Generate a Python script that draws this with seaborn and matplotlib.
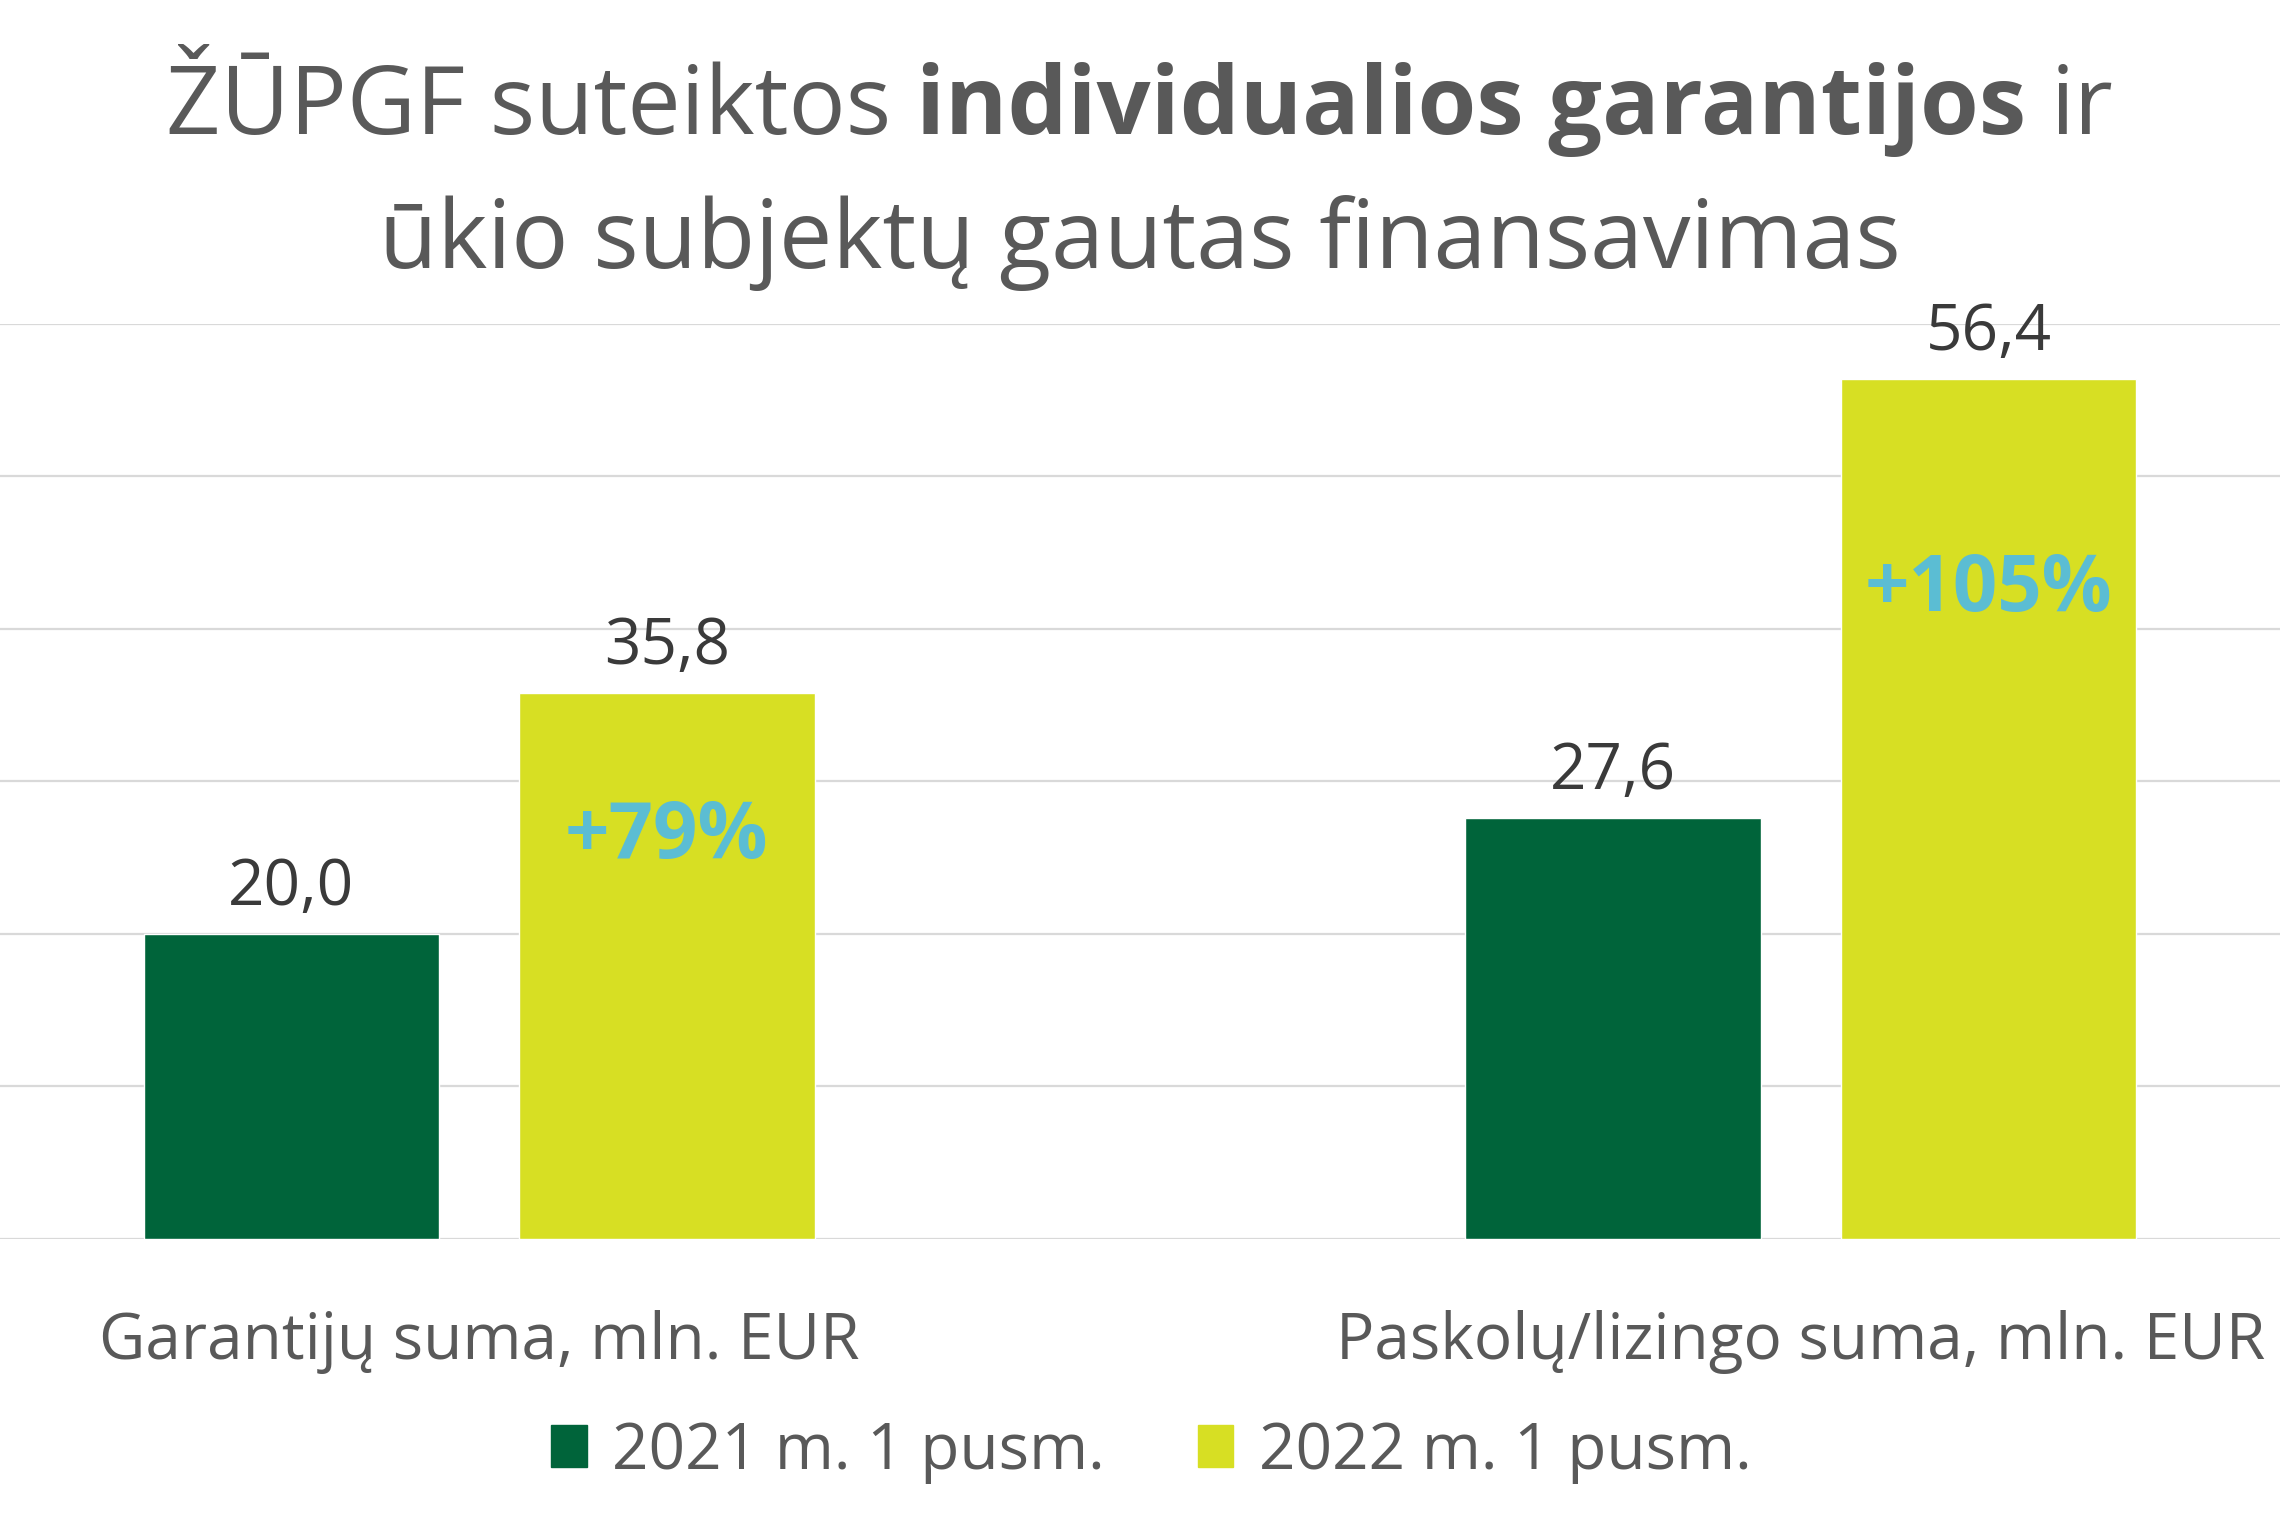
import matplotlib
matplotlib.use("Agg")
import matplotlib.pyplot as plt
import seaborn as sns
import pandas as pd
from matplotlib.patches import Patch

# data
categories = ["Garantijų suma, mln. EUR", "Paskolų/lizingo suma, mln. EUR"]
periods = ["2021 m. 1 pusm.", "2022 m. 1 pusm."]
values_2021 = [20.0, 27.6]
values_2022 = [35.8, 56.4]
growth_labels = ["+79%", "+105%"]
growth_y = [26.3, 42.5]

colors = ["#00643A", "#D7DF23"]
gray = "#595959"
dark = "#3A3A3A"
cyan = "#5BBDD3"

df = pd.DataFrame({
    "category": categories * 2,
    "period": [periods[0]] * len(categories) + [periods[1]] * len(categories),
    "value": values_2021 + values_2022,
})

sns.set_theme(style="white")
plt.rcParams["font.family"] = ["Open Sans", "DejaVu Sans"]

fig = plt.figure(figsize=(22.8, 15.2), dpi=100)
ax = fig.add_axes([0, 0.185, 1, 0.602])

sns.barplot(data=df, x="category", y="value", hue="period", hue_order=periods,
            palette=colors, saturation=1, width=0.568, gap=0.213,
            legend=False, ax=ax)

ax.set_ylim(0, 60)
ax.set_xlim(-0.3625, 1.3625)
ax.set_yticks(range(0, 61, 10))
ax.yaxis.grid(True, color="#D9D9D9", lw=1.6)
ax.set_axisbelow(True)
ax.tick_params(axis="y", left=False, labelleft=False)
ax.tick_params(axis="x", bottom=False, pad=45, labelsize=46, labelcolor=gray)
ax.set_xlabel("")
ax.set_ylabel("")
sns.despine(ax=ax, left=True, bottom=True)

# value labels above bars
for cont in ax.containers:
    ax.bar_label(cont, labels=[f"{b.get_height():.1f}".replace(".", ",") for b in cont],
                 padding=10, fontsize=46, color=dark, clip_on=False)

# growth labels inside the 2022 bars
for bar, lab, gy in zip(ax.containers[1], growth_labels, growth_y):
    ax.text(bar.get_x() + bar.get_width() / 2, gy, lab, ha="center", va="center",
            fontsize=56, fontweight="bold", color=cyan)

# title with a bold middle part
fig.canvas.draw()
r = fig.canvas.get_renderer()
W = fig.bbox.width
title_size = 68.5
parts = [("ŽŪPGF suteiktos", "normal"), ("individualios garantijos", "bold"), ("ir", "normal")]
tmp = fig.text(0, 0, "a a", fontsize=title_size)
w1 = tmp.get_window_extent(r).width
tmp.set_text("aa")
space = w1 - tmp.get_window_extent(r).width
tmp.remove()
handles = []
widths = []
for txt, wt in parts:
    t = fig.text(0, 0.912, txt, fontsize=title_size, fontweight=wt, color=gray, va="baseline")
    handles.append(t)
    widths.append(t.get_window_extent(r).width)
total = sum(widths) + space * (len(parts) - 1)
x = W / 2 - total / 2
for t, w in zip(handles, widths):
    t.set_x(x / W)
    x += w + space
fig.text(0.5, 0.824, "ūkio subjektų gautas finansavimas", fontsize=title_size,
         color=gray, ha="center", va="baseline")

fig.legend(handles=[Patch(color=c, label=p) for c, p in zip(colors, periods)],
           loc="center", bbox_to_anchor=(0.505, 0.045), ncol=2, frameon=False,
           fontsize=46, labelcolor=gray, handlelength=0.56, handleheight=0.64,
           handletextpad=0.4, columnspacing=1.45)

fig.savefig("out.png", dpi=100)
